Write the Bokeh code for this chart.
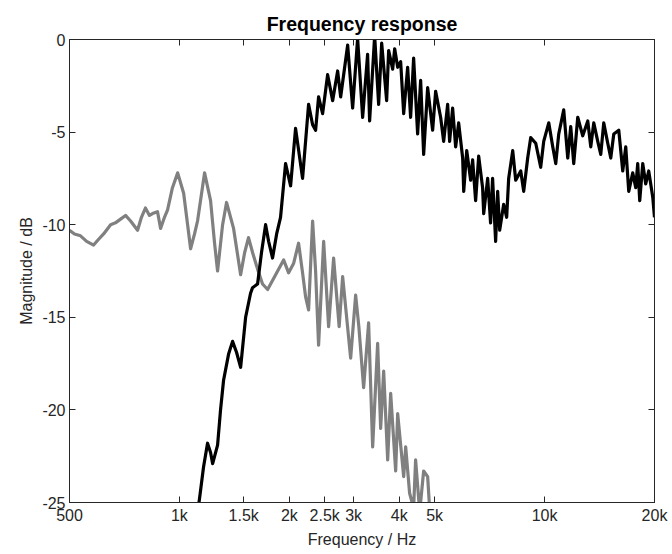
from bokeh.plotting import figure
from bokeh.models import Range1d, FixedTicker, LogAxis, LinearAxis, CustomJSTickFormatter
from bokeh.embed import file_html
from bokeh.resources import INLINE

# ---- data (Hz, dB) ----
black_freq = [1120, 1135, 1164, 1194, 1217, 1233, 1272, 1296, 1321, 1363, 1398, 1434, 1471, 1518,
              1566, 1586, 1637, 1678, 1722, 1755, 1799, 1846, 1892, 1953, 2016, 2080, 2174, 2258,
              2316, 2360, 2405, 2467, 2546, 2628, 2712, 2764, 2889, 2981, 3076, 3175, 3276, 3318,
              3425, 3512, 3580, 3694, 3741, 3837, 3886, 3960, 4035, 4113, 4217, 4297, 4379, 4491,
              4577, 4665, 4784, 4937, 5031, 5192, 5292, 5427, 5495, 5600, 5708, 5817, 5966, 6006,
              6121, 6274, 6353, 6474, 6600, 6765, 6812, 6985, 7114, 7205, 7344, 7439, 7534, 7727,
              7874, 7974, 8180, 8336, 8605, 8766, 8990, 9162, 9458, 9758, 9946, 10267, 10531,
              10730, 10934, 11283, 11574, 11793, 12018, 12326, 12720, 13130, 13381, 13636, 13983,
              14252, 14522, 14894, 15179, 15471, 15965, 16370, 16683, 17002, 17434, 17768, 17992,
              18221, 18571, 18923, 19284, 19778, 20000]
black_db = [-25.6, -24.8, -23.1, -21.8, -22.3, -22.9, -21.9, -20.0, -18.4, -17.0, -16.3, -16.9, -17.7, -15.0,
            -13.7, -13.4, -13.2, -11.5, -10.0, -10.9, -11.8, -10.5, -9.6, -6.7, -7.9, -4.8, -7.5, -3.5,
            -4.6, -4.9, -3.1, -4.0, -1.9, -3.3, -1.7, -3.1, -0.3, -3.7, 0.05, -4.2, -0.8, -4.4,
            0.2, -3.5, -0.2, -3.3, -0.6, -1.6, -0.5, -1.5, -1.2, -4.0, -1.5, -4.2, -1.0, -5.1,
            -2.2, -6.2, -2.6, -4.9, -2.8, -4.2, -5.5, -3.5, -5.5, -3.7, -5.8, -4.5, -6.4, -8.2,
            -6.0, -7.6, -6.5, -8.7, -6.3, -8.0, -9.4, -7.5, -9.9, -7.5, -10.9, -8.2, -10.3, -8.9,
            -9.6, -7.5, -6.0, -7.6, -7.1, -8.2, -6.4, -5.3, -5.6, -6.9, -5.5, -4.5, -5.8,
            -6.7, -5.1, -3.8, -6.4, -4.7, -6.7, -4.2, -5.2, -4.4, -5.8, -4.5, -5.5,
            -6.2, -4.5, -5.6, -6.4, -5.1, -4.9, -7.1, -5.8, -8.2, -7.2, -8.0, -6.7,
            -8.7, -6.7, -7.8, -7.1, -8.5, -9.6]

gray_freq = [500, 516, 536, 557, 582, 600, 620, 648, 668, 690, 712, 735, 768, 787, 807, 828, 844,
             871, 888, 910, 928, 957, 989, 1027, 1053, 1073, 1100, 1121, 1172, 1217, 1248, 1272,
             1313, 1346, 1407, 1471, 1509, 1546, 1586, 1637, 1689, 1744, 1811, 1869, 1929, 1991,
             2054, 2120, 2174, 2216, 2258, 2316, 2360, 2405, 2483, 2562, 2644, 2738, 2799, 2944,
             3038, 3100, 3195, 3297, 3382, 3490, 3557, 3625, 3718, 3789, 3910, 3960, 4113, 4165,
             4270, 4379, 4434, 4550, 4665, 4784, 4850]
gray_db = [-10.3, -10.5, -10.6, -10.9, -11.1, -10.8, -10.5, -10.0, -9.9, -9.7, -9.5, -9.8, -10.3,
           -9.6, -9.1, -9.5, -9.4, -9.3, -10.2, -9.6, -9.2, -8.0, -7.2, -8.3, -10.0, -11.3, -10.5,
           -9.8, -7.2, -8.7, -11.0, -12.5, -10.0, -8.8, -10.2, -12.7, -11.5, -10.7, -11.5, -12.4,
           -13.2, -13.5, -12.9, -12.4, -11.9, -12.6, -12.1, -11.0, -12.6, -13.9, -14.6, -9.8,
           -12.5, -16.5, -10.9, -15.5, -11.8, -15.5, -12.8, -17.2, -13.8, -15.5, -18.8, -15.3,
           -22.0, -16.4, -21.0, -17.9, -22.7, -19.1, -23.3, -20.2, -23.6, -22.0, -24.5, -25.3,
           -22.7, -25.5, -23.3, -23.6, -25.5]

x_ticks = [500, 1000, 1500, 2000, 2500, 3000, 4000, 5000, 10000, 20000]
x_tick_labels = ["500", "1k", "1.5k", "2k", "2.5k", "3k", "4k", "5k", "10k", "20k"]
y_ticks = [-25, -20, -15, -10, -5, 0]
y_tick_labels = ["-25", "-20", "-15", "-10", "-5", "0"]

FONT = "Liberation Sans"
AX = "#262626"

p = figure(width=672, height=554, x_axis_type="log", output_backend="svg",
           toolbar_location=None, x_range=Range1d(500, 20000), y_range=Range1d(-25, 0),
           min_border_left=69, min_border_right=18, min_border_top=39, min_border_bottom=52,
           title="Frequency response")
p.background_fill_color = "white"
p.border_fill_color = "white"
p.grid.visible = False
p.outline_line_color = AX
p.outline_line_width = 1

p.title.align = "center"
p.title.text_font = FONT
p.title.text_font_size = "19.5px"
p.title.text_font_style = "bold"
p.title.text_color = "black"
p.title.offset = 0
p.title.standoff = 10

for ax, ticks, labels in ((p.xaxis[0], x_ticks, x_tick_labels), (p.yaxis[0], y_ticks, y_tick_labels)):
    ax.ticker = FixedTicker(ticks=ticks, minor_ticks=[])
    ax.major_label_overrides = {t: l for t, l in zip(ticks, labels)}
    ax.major_tick_in = 6
    ax.major_tick_out = 0
    ax.minor_tick_in = 0
    ax.minor_tick_out = 0
    ax.axis_line_color = AX
    ax.major_tick_line_color = AX
    ax.major_label_text_font = FONT
    ax.major_label_text_font_size = "16px"
    ax.major_label_text_color = AX
    ax.axis_label_text_font = FONT
    ax.axis_label_text_font_size = "16px"
    ax.axis_label_text_font_style = "normal"
    ax.axis_label_text_color = AX
    ax.major_label_standoff = 4
    ax.axis_label_standoff = 4

p.xaxis.axis_label = "Frequency / Hz"
p.yaxis.axis_label = "Magnitude / dB"

top = LogAxis(ticker=FixedTicker(ticks=x_ticks, minor_ticks=[]), major_tick_in=6, major_tick_out=0,
              minor_tick_in=0, minor_tick_out=0, formatter=CustomJSTickFormatter(code="return '';"),
              axis_line_color=AX, major_tick_line_color=AX, major_label_standoff=0)
right = LinearAxis(ticker=FixedTicker(ticks=y_ticks, minor_ticks=[]), major_tick_in=6, major_tick_out=0,
                   minor_tick_in=0, minor_tick_out=0, formatter=CustomJSTickFormatter(code="return '';"),
                   axis_line_color=AX, major_tick_line_color=AX, major_label_standoff=0)
p.add_layout(top, "above")
p.add_layout(right, "right")

p.line(gray_freq, gray_db, line_color="#808080", line_width=3.2, line_join="round")
p.line(black_freq, black_db, line_color="black", line_width=3.2, line_join="round")

open("out.html", "w").write(file_html(p, INLINE))
